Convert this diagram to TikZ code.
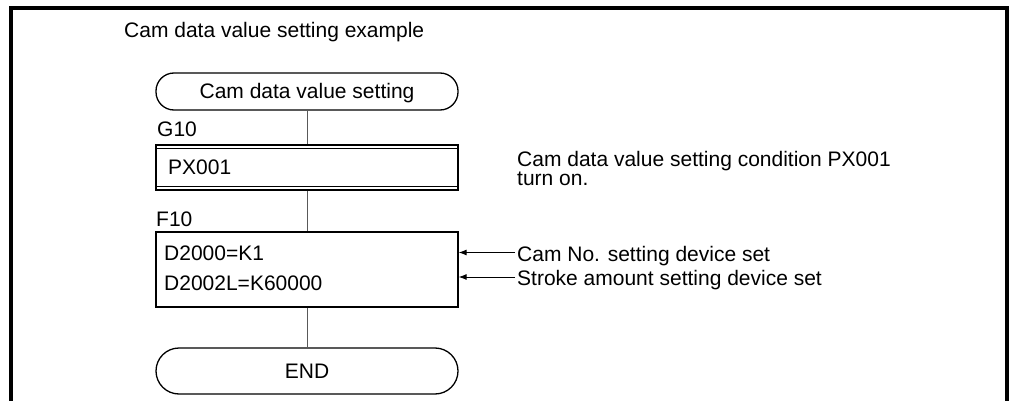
\documentclass[tikz,border=0pt]{standalone}
\usepackage{fontspec}
\setmainfont{Liberation Sans}
\usetikzlibrary{arrows.meta}
\begin{document}
\begin{tikzpicture}[x=1pt,y=-1pt,
  txt/.style={inner sep=0pt, anchor=base west, font=\fontsize{21}{24}\selectfont, text height=15pt, text depth=4pt},
  frameline/.style={line width=4pt},
  boxshape/.style={draw, line width=1.3pt, inner sep=0pt, minimum width=302pt},
  term/.style={boxshape, font=\fontsize{21}{24}\selectfont, text height=15pt, text depth=0pt},
  flow/.style={draw=black!65, line width=0.9pt},
  note/.style={line width=0.9pt, -{Latex[length=8pt,width=6pt]}}
]
\useasboundingbox (0,0) rectangle (1009,401);
\draw[frameline] (10.5,401) -- (10.5,8) -- (1006.5,8) -- (1006.5,401);

\node[txt] (title) at (124,38) {Cam data value setting example};

\node[term, minimum height=37pt, rounded corners=18pt] (start) at (307,91.5) {Cam data value setting};

\node[txt] (g10) at (157,137) {G10};
\node[boxshape, minimum height=45pt] (px) at (307,167.5) {};
\draw[line width=1pt] ([yshift=-4pt]px.north west) -- ([yshift=-4pt]px.north east);
\draw[line width=1pt] ([yshift=4pt]px.south west) -- ([yshift=4pt]px.south east);
\node[txt] (pxt) at (168,175) {PX001};

\node[txt] (f10) at (156,226) {F10};
\node[boxshape, minimum height=75pt] (fb) at (307,269.5) {};
\node[txt] (d1) at (164,260.5) {D2000=K1};
\node[txt] (d2) at (164,290) {D2002L=K60000};

\node[term, minimum height=46pt, rounded corners=23pt] (end) at (307,371) {END};

\draw[flow] (start.south) -- (px.north);
\draw[flow] (px.south) -- (fb.north);
\draw[flow] (fb.south) -- (end.north);

\node[txt] (n1) at (517,166) {Cam data value setting condition PX001};
\node[txt] (n2) at (517,185) {turn on.};
\node[txt] (c1) at (517,261) {Cam No. setting device set};
\node[txt] (c2) at (517,285.5) {Stroke amount setting device set};

\draw[note] ([xshift=-2pt,yshift=3pt]c1.west) -- ([yshift=3pt]c1.west -| fb.east);
\draw[note] ([xshift=-2pt,yshift=3pt]c2.west) -- ([yshift=3pt]c2.west -| fb.east);
\end{tikzpicture}
\end{document}
